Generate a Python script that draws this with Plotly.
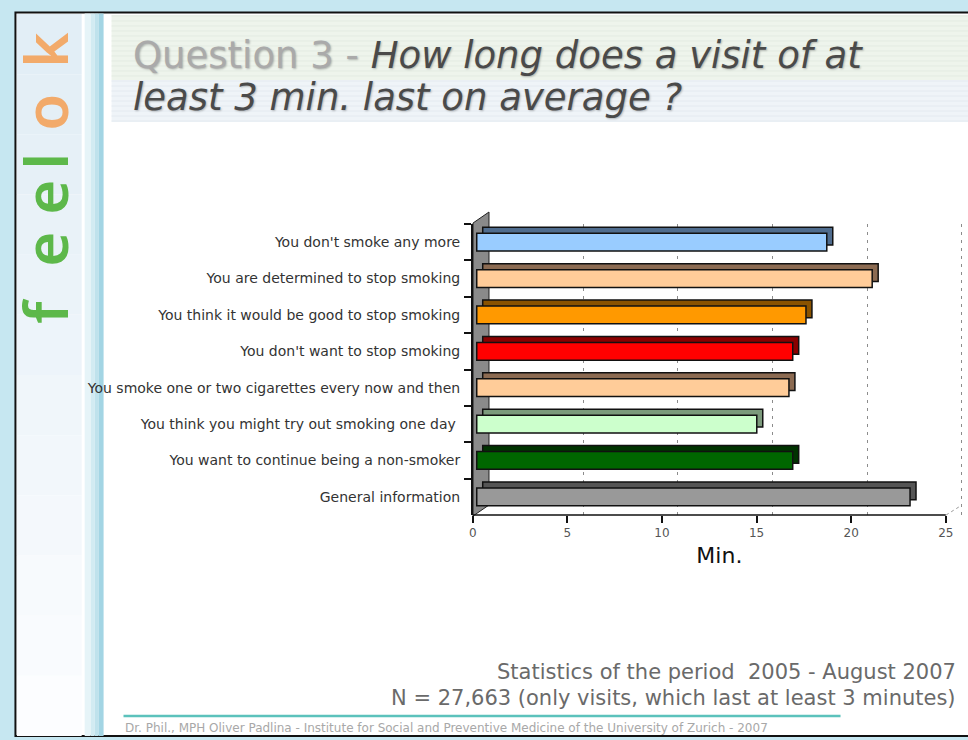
import plotly.graph_objects as go

# ---------------- data ----------------
categories = [
    "You don't smoke any more",
    "You are determined to stop smoking",
    "You think it would be good to stop smoking",
    "You don't want to stop smoking",
    "You smoke one or two cigarettes every now and then",
    "You think you might try out smoking one day ",
    "You want to continue being a non-smoker",
    "General information",
]
minutes = [18.5, 20.9, 17.4, 16.7, 16.5, 14.8, 16.7, 22.9]
front_colors = ["#99CCFF", "#FFCC99", "#FF9900", "#FF0000", "#FFCC99", "#CCFFCC", "#006600", "#999999"]
side_colors = ["#4F6C8E", "#8C6B52", "#8A5300", "#8A0000", "#8C6B52", "#7C9A7C", "#003300", "#555555"]
x_ticks = [0, 5, 10, 15, 20, 25]
x_title = "Min."
title_grey = "Question 3 - "
title_line1 = "How long does a visit of at"
title_line2 = "least 3 min. last on average ?"
note1 = "Statistics of the period  2005 - August 2007"
note2 = "N = 27,663 (only visits, which last at least 3 minutes)"
credit = "Dr. Phil., MPH Oliver Padlina - Institute for Social and Preventive Medicine of the University of Zurich - 2007"
logo_letters = ["f", "e", "e", "l", "o", "k"]
logo_colors = ["#5DB84A", "#5DB84A", "#5DB84A", "#5DB84A", "#F2AA6A", "#F2AA6A"]

# ---------------- geometry helpers ----------------
W, H = 968, 740
def px(x):
    return x / W
def py(y):
    return 1 - y / H

X0, X1 = 470.7, 966.0          # pixel extent of the plotting area
Y0, Y1 = 224.0, 515.0          # top / bottom
PPU = 19.0                      # pixels per minute
span = (X1 - X0) / PPU
ncat = len(categories)
ppc = (Y1 - Y0) / ncat          # pixels per category

def xr(shift_px):
    s = shift_px / PPU
    return [-s, span - s]

def yr(shift_up_px):
    s = shift_up_px / ppc
    return [ncat - 0.5 + s, -0.5 + s]

xdom = [px(X0), px(X1)]
ydom = [py(Y1), py(Y0)]

fig = go.Figure()

# shadow (depth) bars
fig.add_trace(go.Bar(
    y=categories, x=minutes, orientation="h", xaxis="x2", yaxis="y2",
    marker=dict(color=side_colors, line=dict(color="#111111", width=1.5)),
    width=0.49, hoverinfo="skip", showlegend=False,
))
# front bars
fig.add_trace(go.Bar(
    y=categories, x=minutes, orientation="h", xaxis="x3", yaxis="y3",
    marker=dict(color=front_colors, line=dict(color="#111111", width=1.5)),
    width=0.49, showlegend=False,
    hovertemplate="%{y}: %{x} min<extra></extra>",
))
# invisible trace to carry the labelled x axis
fig.add_trace(go.Scatter(
    x=[0], y=[categories[0]], xaxis="x4", yaxis="y3", mode="markers",
    marker=dict(opacity=0), hoverinfo="skip", showlegend=False,
))
# grid carrier
fig.add_trace(go.Scatter(
    x=[0], y=[0], xaxis="x", yaxis="y", mode="markers",
    marker=dict(opacity=0), hoverinfo="skip", showlegend=False,
))

FONT = "DejaVu Sans"

fig.update_layout(
    width=W, height=H,
    margin=dict(l=0, r=0, t=0, b=0),
    paper_bgcolor="#C6E7F1",
    plot_bgcolor="rgba(0,0,0,0)",
    bargap=0.5,
    xaxis=dict(domain=xdom, range=xr(16), anchor="y", tickvals=x_ticks[1:],
               showgrid=True, gridcolor="#8c8c8c", gridwidth=1, griddash="3px,5px",
               showticklabels=False, ticks="", zeroline=False, showline=False),
    yaxis=dict(domain=ydom, range=[0, 1], anchor="x", showgrid=False,
               showticklabels=False, zeroline=False, showline=False),
    xaxis2=dict(overlaying="x", range=xr(10), anchor="y", visible=False),
    yaxis2=dict(overlaying="y", range=yr(6), anchor="x", type="category",
                categoryarray=categories, visible=False),
    xaxis3=dict(overlaying="x", range=xr(4), anchor="y", visible=False),
    yaxis3=dict(overlaying="y", range=yr(0), anchor="x4", type="category",
                categoryarray=categories, showline=True, linecolor="#111111",
                linewidth=1.5, ticks="outside", tickson="boundaries", ticklen=7,
                tickcolor="#111111", tickwidth=1.5, showgrid=False,
                ticklabelstandoff=8,
                tickfont=dict(family=FONT, size=14, color="#333333")),
    xaxis4=dict(overlaying="x", range=xr(0), anchor="y3", tickvals=x_ticks,
                ticks="outside", ticklen=7, tickwidth=1.5, tickcolor="#111111",
                showgrid=False, zeroline=False, showline=False,
                tickfont=dict(family=FONT, size=12, color="#555555"),
                title=dict(text=x_title, font=dict(family=FONT, size=22, color="#111111"),
                           standoff=8)),
)

shapes = []
# white slide with black frame
shapes.append(dict(type="rect", xref="paper", yref="paper", x0=px(11.5), x1=px(980),
                   y0=py(736), y1=py(12.5), fillcolor="#FFFFFF",
                   line=dict(color="#111111", width=2), layer="below"))
# left panel gradient (light blue fading to white)
steps = 12
for i in range(steps):
    t = i / (steps - 1)
    r = int(226 + (252 - 226) * t)
    g = int(238 + (253 - 238) * t)
    b = int(246 + (255 - 246) * t)
    shapes.append(dict(type="rect", xref="paper", yref="paper", x0=px(13), x1=px(78),
                       y0=py(14 + (i + 1) * 722 / steps), y1=py(14 + i * 722 / steps),
                       fillcolor=f"rgb({r},{g},{b})", line=dict(width=0), layer="below"))
# vertical blue strip
for x0, x1, c in [(81, 87, "#E6F4F8"), (87, 91, "#D2EBF2"), (91, 95, "#BFE2EC"), (95, 100, "#A3D5E4")]:
    shapes.append(dict(type="rect", xref="paper", yref="paper", x0=px(x0), x1=px(x1),
                       y0=py(736), y1=py(13.5), fillcolor=c, line=dict(width=0), layer="below"))
# title band
shapes.append(dict(type="rect", xref="paper", yref="paper", x0=px(108), x1=px(968),
                   y0=py(80), y1=py(15), fillcolor="#EEF4EC", line=dict(width=0), layer="below"))
shapes.append(dict(type="rect", xref="paper", yref="paper", x0=px(108), x1=px(968),
                   y0=py(122), y1=py(80), fillcolor="#EFF4F8", line=dict(width=0), layer="below"))
for k in range(16, 122, 5):
    shapes.append(dict(type="line", xref="paper", yref="paper", x0=px(108), x1=px(968),
                       y0=py(k), y1=py(k), line=dict(color="#E3EBE2" if k < 80 else "#E4EAF0", width=1),
                       layer="below"))
# left wall of the 3-D chart
wall = (f"M {px(471)},{py(516)} L {px(471)},{py(223)} L {px(487)},{py(212)} "
        f"L {px(487)},{py(505)} Z")
shapes.append(dict(type="path", xref="paper", yref="paper", path=wall,
                   fillcolor="#8A8A8A", line=dict(color="#222222", width=1), layer="below"))
# x axis line (front)
shapes.append(dict(type="line", xref="x4", yref="paper", x0=0, x1=25,
                   y0=py(Y1), y1=py(Y1), line=dict(color="#111111", width=1.5)))
# perspective edge at right end of axis
shapes.append(dict(type="line", xref="paper", yref="paper", x0=px(946), x1=px(962),
                   y0=py(515), y1=py(505), line=dict(color="#999999", width=1, dash="dot")))
# teal rule above the credit line
shapes.append(dict(type="line", xref="paper", yref="paper", x0=px(120), x1=px(840),
                   y0=py(716), y1=py(716), line=dict(color="#5CC2BC", width=2.5)))
fig.update_layout(shapes=shapes)

ann = []
shadow = "1px 1px 2px rgba(0,0,0,0.25)"
ann.append(dict(xref="paper", yref="paper", x=px(128), y=py(55), xanchor="left", yanchor="middle",
                showarrow=False, align="left",
                text=f"<span style='color:#AAAAAA'>{title_grey}</span><i>{title_line1}</i>",
                font=dict(family=FONT, size=37, color="#4A4A4A", shadow=shadow)))
ann.append(dict(xref="paper", yref="paper", x=px(128), y=py(98), xanchor="left", yanchor="middle",
                showarrow=False, align="left", text=f"<i>{title_line2}</i>",
                font=dict(family=FONT, size=37, color="#4A4A4A", shadow=shadow)))
logo_y = [311, 249, 197, 161, 112, 50]
for ch, col, yy in zip(logo_letters, logo_colors, logo_y):
    ann.append(dict(xref="paper", yref="paper", x=px(41), y=py(yy), xanchor="center",
                    yanchor="middle", showarrow=False, text=ch, textangle=-90,
                    font=dict(family="Noto Sans", size=60, weight=600, color=col)))
ann.append(dict(xref="paper", yref="paper", x=px(958), y=py(672), xanchor="right", yanchor="middle",
                showarrow=False, text=note1, font=dict(family=FONT, size=21, color="#6A6A6A")))
ann.append(dict(xref="paper", yref="paper", x=px(958), y=py(698), xanchor="right", yanchor="middle",
                showarrow=False, text=note2, font=dict(family=FONT, size=21, color="#6A6A6A")))
ann.append(dict(xref="paper", yref="paper", x=px(119), y=py(728), xanchor="left", yanchor="middle",
                showarrow=False, text=credit, font=dict(family=FONT, size=12, color="#A8A8A8")))
fig.update_layout(annotations=ann)

fig.write_html("out.html", config={"displayModeBar": False},
               post_script="document.body.style.margin='0';")
